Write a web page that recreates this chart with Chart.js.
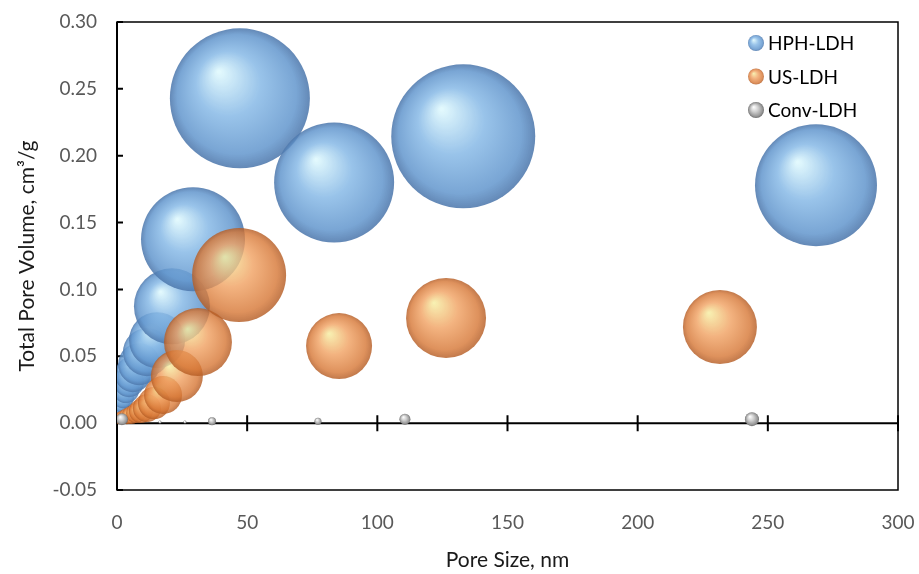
<!DOCTYPE html>
<html>
<head>
<meta charset="utf-8">
<script src="https://cdn.jsdelivr.net/npm/chart.js@4/dist/chart.umd.min.js"></script>
<style>
  html, body { margin: 0; padding: 0; background: #fff; }
  #wrap { width: 919px; height: 574px; }
</style>
</head>
<body>
<div id="wrap"><canvas id="poreChart"></canvas></div>
<script>
// pore size (nm), total pore volume (cm3/g), bubble radius (px)
const hphX = [0.4, 0.8, 1.5, 2.3, 3.5, 4.6, 6.1, 8.5, 11.5, 15.4, 21.1, 29.2, 47.2, 83.4, 133.0, 268.5];
const hphY = [0.0067, 0.0105, 0.0149, 0.0194, 0.0247, 0.0306, 0.0366, 0.0441, 0.0531, 0.062, 0.0874, 0.1375, 0.2429, 0.180, 0.2145, 0.1779];
const hphR = [5, 7, 9, 11, 13, 15, 18, 21, 24, 28, 38, 52, 70, 60, 72, 61];

const usX = [0.8, 2.3, 3.8, 5.4, 7.3, 9.2, 11.5, 14.2, 17.7, 23.0, 31.1, 46.9, 85.3, 126.4, 231.6];
const usY = [0.0037, 0.0045, 0.0052, 0.006, 0.0075, 0.009, 0.0112, 0.015, 0.021, 0.0352, 0.0606, 0.1108, 0.0576, 0.0786, 0.0719];
const usR = [6, 7, 8, 9, 10, 12, 14, 16, 19, 26, 34, 47, 33, 40, 37];

const convX = [1.9, 16.5, 26.1, 36.5, 77.2, 110.6, 243.9];
const convY = [0.003, 0.0008, 0.0008, 0.0015, 0.0015, 0.003, 0.003];
const convR = [6, 1.5, 1.5, 4, 3.5, 5.5, 7];

const seriesNames = ["HPH-LDH", "US-LDH", "Conv-LDH"];
const xTicks = [0, 50, 100, 150, 200, 250, 300];

const FONT = "Lato, 'Open Sans', sans-serif";

const palettes = [
    { hi: 'rgba(222,248,253,0.88)', mid: 'rgba(135,185,230,0.85)', edge: 'rgba(98,150,205,0.85)', dark: 'rgba(78,120,172,0.88)' },
    { hi: 'rgba(246,236,160,0.82)', mid: 'rgba(240,160,96,0.8)', edge: 'rgba(214,118,52,0.8)', dark: 'rgba(180,92,36,0.82)' },
    { hi: 'rgba(255,255,255,1)', mid: 'rgba(205,205,205,1)', edge: 'rgba(150,150,150,1)', dark: 'rgba(110,110,110,1)' }
];

// bubbles may overflow the plot edge like in the original, don't shrink the chart area for them
Chart.BubbleController.prototype.getMaxOverflow = function () { return 0; };

function sphere(g2d, cx, cy, r, p) {
    const g = g2d.createRadialGradient(cx - r * 0.3, cy - r * 0.38, r * 0.02, cx, cy, r);
    g.addColorStop(0, p.hi);
    g.addColorStop(0.45, p.mid);
    g.addColorStop(0.85, p.edge);
    g.addColorStop(1, p.dark);
    return g;
}

function sphereFill(p) {
    return function (ctx) {
        const chart = ctx.chart;
        if (ctx.type !== 'data' || !chart.chartArea || !chart.scales.x) return p.mid;
        const cx = chart.scales.x.getPixelForValue(ctx.raw.x);
        const cy = chart.scales.y.getPixelForValue(ctx.raw.y);
        return sphere(chart.ctx, cx, cy, ctx.raw.r, p);
    };
}

function toPoints(xs, ys, rs) {
    return xs.map((v, i) => ({ x: v, y: ys[i], r: rs[i] }));
}

// frame, zero line with crossing ticks, inward y ticks
const axisDecor = {
    id: 'axisDecor',
    beforeDatasetsDraw(chart) {
        const c = chart.ctx, a = chart.chartArea;
        const xs = chart.scales.x, ys = chart.scales.y;
        c.save();
        c.strokeStyle = '#000';
        c.lineWidth = 1.5;
        c.strokeRect(a.left, a.top, a.right - a.left, a.bottom - a.top);
        c.lineWidth = 2;
        c.beginPath();
        c.moveTo(a.left, a.top); c.lineTo(a.left, a.bottom);
        const y0 = ys.getPixelForValue(0);
        c.moveTo(a.left, y0); c.lineTo(a.right, y0);
        xTicks.forEach(v => {
            const px = xs.getPixelForValue(v);
            c.moveTo(px, y0 - 8); c.lineTo(px, y0 + 8);
        });
        ys.ticks.forEach(t => {
            const py = ys.getPixelForValue(t.value);
            c.moveTo(a.left, py); c.lineTo(a.left + 6, py);
        });
        c.stroke();
        c.restore();
    },
    afterDraw(chart) {
        // legend, top right inside plot
        const c = chart.ctx, a = chart.chartArea;
        c.save();
        c.font = "19px " + FONT;
        c.textBaseline = 'middle';
        seriesNames.forEach((name, i) => {
            const lx = a.right - 142, ly = a.top + 21 + i * 33.5;
            c.beginPath();
            c.arc(lx, ly, 8, 0, Math.PI * 2);
            c.fillStyle = sphere(c, lx, ly, 8, palettes[i]);
            c.fill();
            c.fillStyle = '#000';
            c.fillText(name, lx + 12, ly + 1);
        });
        c.restore();
    }
};

const ctx = document.getElementById('poreChart').getContext('2d');
const poreChart = new Chart(ctx, {
    type: 'bubble',
    data: {
        datasets: [
            { label: seriesNames[0], data: toPoints(hphX, hphY, hphR), backgroundColor: sphereFill(palettes[0]), borderWidth: 0, order: 3 },
            { label: seriesNames[1], data: toPoints(usX, usY, usR), backgroundColor: sphereFill(palettes[1]), borderWidth: 0, order: 2 },
            { label: seriesNames[2], data: toPoints(convX, convY, convR), backgroundColor: sphereFill(palettes[2]), borderWidth: 0, order: 1 }
        ]
    },
    options: {
        responsive: true,
        maintainAspectRatio: false,
        animation: false,
        events: [],
        layout: { padding: { left: 11, right: 21, top: 22, bottom: 1 } },
        scales: {
            x: {
                type: 'linear',
                min: 0, max: 300,
                afterFit: s => { s.height = 83; s.paddingLeft = 0; s.paddingRight = 0; },
                afterBuildTicks: s => { s.ticks = xTicks.map(v => ({ value: v })); },
                grid: { display: false, drawTicks: false },
                border: { display: false },
                ticks: { color: '#595959', font: { family: FONT, size: 19 }, padding: 21, maxRotation: 0 },
                title: { display: true, text: 'Pore Size, nm', color: '#1a1a1a', font: { family: FONT, size: 21 }, padding: { top: 4, bottom: 0 } }
            },
            y: {
                min: -0.05, max: 0.30,
                afterFit: s => { s.width = 106; s.paddingTop = 0; s.paddingBottom = 0; },
                grid: { display: false, drawTicks: false },
                border: { display: false },
                ticks: { stepSize: 0.05, color: '#595959', font: { family: FONT, size: 19 }, padding: 20,
                         callback: v => (Math.abs(v) < 1e-9 ? 0 : v).toFixed(2) },
                title: { display: true, text: 'Total Pore Volume, cm³/g', color: '#1a1a1a', font: { family: FONT, size: 21 }, padding: { bottom: 4 } }
            }
        },
        plugins: {
            legend: { display: false },
            tooltip: { enabled: false }
        }
    },
    plugins: [axisDecor]
});
</script>
</body>
</html>
